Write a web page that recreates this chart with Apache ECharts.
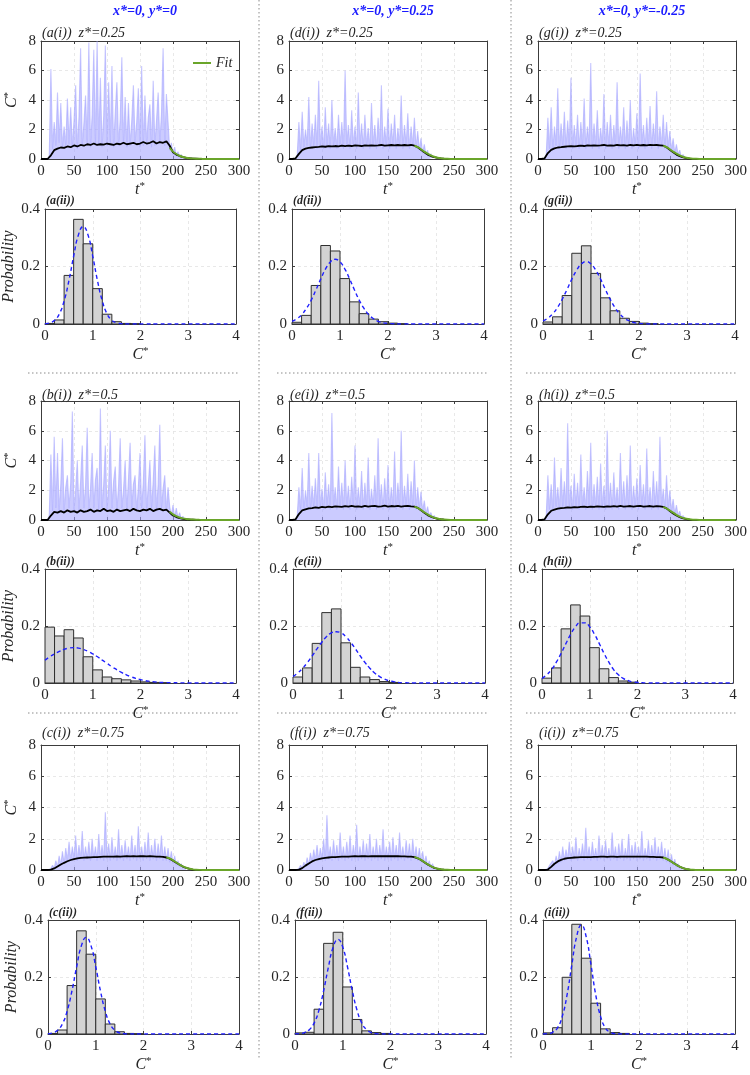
<!DOCTYPE html>
<html><head><meta charset="utf-8">
<script src="https://cdn.jsdelivr.net/npm/echarts@6/dist/echarts.min.js"></script>
<style>html,body{margin:0;padding:0;background:#fff}#c{width:750px;height:1075px}</style>
</head><body><div id="c"></div>
<script>
// ---------------- DATA ----------------
const columnTitles = ['x*=0, y*=0', 'x*=0, y*=0.25', 'x*=0, y*=-0.25'];
const zLabels = ['z*=0.25', 'z*=0.5', 'z*=0.75'];
const panelIds = [['a','b','c'],['d','e','f'],['g','h','i']];
const tsXTicks = [0, 300, 50];
const tsYTicks = [0, 8, 2];
const hXTicks = [0, 4, 1];
const hYTicks = [0, 0.4, 0.2];
// raw signal, t = 10, 12.5, 15, ...
const rawStart = 10, rawStep = 2.5;
const rawA = [0,0.2,6.1,0.7,2.5,0.9,4.5,1.1,3.8,0.8,2.2,0.9,4.1,1.0,3.5,0.8,2.6,5.0,0.7,2.8,7.5,0.9,2.4,4.3,1.1,7.9,0.8,3.0,7.4,0.9,8.0,1.0,5.5,0.8,2.9,7.7,0.9,5.2,1.1,6.3,0.8,3.1,5.2,0.9,2.7,6.9,1.0,4.2,0.8,3.8,0.9,2.6,5.0,1.1,2.5,4.8,0.8,6.3,0.9,4.3,1.0,2.8,3.7,0.8,5.3,0.9,2.6,4.5,1.1,3.0,7.5,0.9,4.4,2.5,0.6,1.1,0.3,0.8,0.2,0.5,0.15,0.3,0.1,0.12,0.05];
const rawB = [0,0.3,4.4,0.6,5.6,0.8,4.5,0.6,2.4,5.5,0.6,2.2,3.0,0.8,2.5,7.3,0.6,2.0,4.0,0.6,2.6,5.0,0.8,2.3,6.2,0.6,2.1,4.5,0.8,2.7,3.5,0.6,7.5,0.8,2.4,5.0,0.6,2.2,6.0,0.8,2.6,3.6,0.6,2.3,5.5,0.8,2.0,4.0,0.6,2.7,5.2,0.8,2.4,3.0,0.6,2.2,4.5,0.8,2.5,5.7,0.6,2.3,4.0,0.8,2.6,5.0,0.6,2.4,6.4,0.8,2.1,3.0,0.6,2.2,0.9,0.3,1.0,0.2,0.8,0.15,0.5,0.1,0.25,0.05,0.1];
const rawC = [0,0,0.1,0.3,0.1,0.6,0.2,0.9,0.3,1.2,0.4,1.4,0.6,1.8,0.6,1.5,0.7,2.2,0.6,1.6,0.7,2.5,0.6,1.5,0.7,1.8,0.6,2.0,0.7,1.5,0.6,2.3,0.7,1.6,0.6,3.7,0.7,1.7,0.6,2.1,0.7,1.5,0.6,2.6,0.7,1.6,0.6,1.9,0.7,1.5,0.6,2.2,0.7,1.6,0.6,2.8,0.7,1.5,0.6,1.8,0.7,2.4,0.6,1.6,0.7,2.0,0.6,1.7,0.7,2.2,0.6,1.5,0.6,1.4,0.5,1.2,0.4,0.9,0.3,0.6,0.2,0.4,0.1,0.2,0.05];
const rawD = [0,0.3,2.5,0.6,3.2,0.8,2.0,0.9,4.2,0.7,2.4,0.9,3.0,0.7,5.3,0.9,2.2,0.7,3.5,0.9,2.4,0.7,4.0,0.9,2.1,0.7,3.0,0.9,2.5,0.7,6.0,0.9,2.3,0.7,3.3,0.9,2.2,0.7,4.5,0.9,2.4,0.7,3.0,0.9,2.1,0.7,3.8,0.9,2.3,0.7,2.8,0.9,5.0,0.7,2.2,0.9,3.4,0.7,2.4,0.9,3.0,0.7,2.1,0.9,4.3,0.7,2.3,0.9,3.1,0.7,2.2,0.9,2.8,0.7,1.9,0.6,1.4,0.4,1.0,0.3,0.6,0.15,0.35,0.1,0.15];
const rawE = [0,0.3,2.2,0.7,3.5,0.6,2.0,0.9,4.5,0.7,2.3,0.9,2.8,0.7,4.5,0.9,2.1,0.7,3.2,0.9,2.4,0.7,7.2,0.9,2.2,0.7,3.6,0.9,2.5,0.7,4.0,0.9,2.3,0.7,2.9,0.9,5.0,0.7,2.2,0.9,3.3,0.7,2.5,0.9,4.2,0.7,2.1,0.9,3.0,0.7,5.5,0.9,2.4,0.7,2.8,0.9,3.7,0.7,2.2,0.9,4.6,0.7,2.5,0.9,6.0,0.7,2.3,0.9,3.1,0.7,2.6,0.9,4.0,0.7,2.2,0.8,1.9,0.6,1.3,0.4,0.9,0.3,0.5,0.15,0.3,0.1,0.12];
const rawF = [0,0,0.1,0.3,0.1,0.5,0.2,0.8,0.3,1.1,0.5,1.3,0.6,1.6,0.6,1.4,0.7,2.0,0.6,3.5,0.7,1.5,0.6,1.9,0.7,1.6,0.6,2.4,0.7,1.5,0.6,1.8,0.7,2.2,0.6,1.6,0.7,2.9,0.6,1.5,0.7,1.9,0.6,1.7,0.7,2.3,0.6,1.5,0.7,2.0,0.6,1.6,0.7,2.6,0.6,1.5,0.7,1.8,0.6,2.1,0.7,1.6,0.6,2.4,0.7,1.5,0.6,1.9,0.7,1.7,0.6,2.0,0.7,1.5,0.6,1.4,0.5,1.2,0.4,0.9,0.3,0.6,0.2,0.4,0.1,0.2,0.05];
const rawG = [0,0.3,2.8,0.7,3.5,0.6,2.2,0.9,4.8,0.7,2.4,0.9,3.2,0.7,2.6,0.9,5.5,0.7,2.3,0.9,3.0,0.7,2.5,0.9,4.1,0.7,2.2,0.9,6.5,0.7,2.4,0.9,3.3,0.7,2.1,0.9,4.4,0.7,2.5,0.9,3.0,0.7,2.3,0.9,5.2,0.7,2.2,0.9,3.5,0.7,2.6,0.9,4.0,0.7,2.1,0.9,3.1,0.7,5.8,0.9,2.3,0.7,2.8,0.9,3.6,0.7,2.4,0.9,4.6,0.7,2.2,0.9,3.0,0.7,2.5,0.8,1.9,0.6,1.4,0.4,1.0,0.3,0.6,0.15,0.3,0.1,0.1];
const rawH = [0,0.3,3.0,0.7,2.4,0.6,4.2,0.9,2.2,0.7,3.5,0.9,2.6,0.7,6.5,0.9,2.3,0.7,3.1,0.9,2.5,0.7,4.4,0.9,2.2,0.7,3.3,0.9,5.2,0.7,2.4,0.9,2.9,0.7,3.8,0.9,2.3,0.7,6.0,0.9,2.5,0.7,3.2,0.9,2.2,0.7,4.5,0.9,2.6,0.7,3.0,0.9,5.0,0.7,2.3,0.9,2.8,0.7,3.7,0.9,2.4,0.7,4.8,0.9,2.2,0.7,3.3,0.9,2.6,0.7,5.6,0.9,2.1,0.7,3.0,0.8,2.0,0.6,1.4,0.4,1.0,0.3,0.6,0.15,0.3,0.1,0.1];
const rawI = [0,0,0.1,0.3,0.2,0.6,0.3,0.9,0.4,1.2,0.5,1.5,0.6,1.3,0.7,1.8,0.6,1.5,0.7,2.1,0.6,1.4,0.7,1.7,0.6,2.7,0.7,1.5,0.6,1.8,0.7,1.4,0.6,2.2,0.7,1.6,0.6,1.9,0.7,1.4,0.6,2.4,0.7,1.5,0.6,1.7,0.7,2.0,0.6,1.4,0.7,2.3,0.6,1.6,0.7,1.8,0.6,1.5,0.7,2.5,0.6,1.4,0.7,1.9,0.6,1.6,0.7,2.1,0.6,1.5,0.7,1.8,0.6,1.4,0.5,1.3,0.4,1.0,0.3,0.7,0.2,0.4,0.1,0.2,0.05];
// ensemble mean, t = 0, 5, 10, ..., 300
const meanStart = 0, meanStep = 5;
const meanA = [0,0,0,0.25,0.6,0.7,0.78,0.75,0.85,0.8,0.92,0.85,0.95,0.9,1.0,0.95,1.05,0.95,1.0,0.98,1.05,1.0,0.95,1.05,1.0,1.1,1.0,1.05,1.1,1.0,1.05,1.15,1.05,1.1,1.2,1.05,1.15,1.1,1.2,0.9,0.45,0.3,0.2,0.13,0.08,0.05,0.03,0.02,0.01,0,0,0,0,0,0,0,0,0,0,0,0];
const meanB = [0,0,0,0.3,0.55,0.5,0.6,0.5,0.65,0.55,0.6,0.5,0.65,0.55,0.6,0.7,0.55,0.65,0.6,0.75,0.6,0.65,0.55,0.7,0.6,0.65,0.7,0.6,0.75,0.65,0.6,0.7,0.65,0.75,0.6,0.7,0.75,0.65,0.7,0.5,0.3,0.2,0.13,0.08,0.05,0.03,0.02,0.01,0,0,0,0,0,0,0,0,0,0,0,0,0];
const meanC = [0,0,0,0.02,0.1,0.22,0.35,0.46,0.56,0.64,0.7,0.74,0.77,0.79,0.8,0.81,0.82,0.83,0.84,0.85,0.86,0.85,0.86,0.87,0.86,0.87,0.88,0.87,0.88,0.87,0.88,0.88,0.87,0.88,0.87,0.86,0.85,0.84,0.8,0.72,0.6,0.47,0.34,0.22,0.13,0.07,0.03,0.01,0.004,0,0,0,0,0,0,0,0,0,0,0,0];
const meanD = [0,0,0.05,0.35,0.6,0.7,0.75,0.78,0.8,0.82,0.85,0.83,0.87,0.85,0.88,0.86,0.9,0.87,0.9,0.88,0.92,0.9,0.88,0.92,0.9,0.93,0.9,0.92,0.95,0.9,0.93,0.95,0.92,0.95,0.93,0.95,0.92,0.95,0.9,0.8,0.62,0.45,0.3,0.2,0.12,0.07,0.04,0.02,0.01,0,0,0,0,0,0,0,0,0,0,0,0];
const meanE = [0,0,0.05,0.4,0.65,0.72,0.78,0.8,0.85,0.82,0.88,0.85,0.9,0.87,0.92,0.9,0.88,0.93,0.9,0.95,0.9,0.92,0.88,0.95,0.9,0.93,0.95,0.9,0.92,0.96,0.9,0.94,0.92,0.95,0.9,0.93,0.95,0.92,0.9,0.82,0.65,0.48,0.33,0.22,0.14,0.08,0.05,0.03,0.015,0.005,0,0,0,0,0,0,0,0,0,0,0];
const meanF = [0,0,0,0.02,0.12,0.28,0.42,0.55,0.64,0.7,0.75,0.78,0.8,0.82,0.83,0.84,0.85,0.86,0.86,0.87,0.88,0.87,0.88,0.88,0.87,0.88,0.89,0.88,0.89,0.88,0.88,0.89,0.88,0.88,0.87,0.87,0.86,0.85,0.82,0.75,0.64,0.5,0.36,0.24,0.14,0.08,0.04,0.02,0.008,0.003,0,0,0,0,0,0,0,0,0,0,0];
const meanG = [0,0,0.05,0.4,0.62,0.72,0.78,0.8,0.83,0.85,0.87,0.85,0.88,0.9,0.88,0.92,0.9,0.93,0.9,0.92,0.95,0.9,0.93,0.9,0.95,0.92,0.94,0.9,0.95,0.92,0.96,0.93,0.95,0.92,0.96,0.94,0.95,0.93,0.9,0.8,0.62,0.45,0.3,0.19,0.11,0.06,0.03,0.015,0.005,0,0,0,0,0,0,0,0,0,0,0,0];
const meanH = [0,0,0.05,0.38,0.62,0.7,0.76,0.8,0.82,0.85,0.83,0.87,0.85,0.88,0.9,0.86,0.9,0.88,0.92,0.9,0.88,0.92,0.9,0.93,0.9,0.95,0.9,0.92,0.94,0.9,0.93,0.95,0.9,0.92,0.94,0.9,0.93,0.92,0.88,0.78,0.6,0.44,0.3,0.19,0.11,0.06,0.03,0.015,0.005,0,0,0,0,0,0,0,0,0,0,0,0];
const meanI = [0,0,0,0.03,0.2,0.4,0.55,0.65,0.72,0.76,0.78,0.8,0.81,0.82,0.82,0.83,0.83,0.84,0.84,0.85,0.85,0.84,0.85,0.85,0.84,0.85,0.86,0.85,0.86,0.85,0.85,0.86,0.85,0.85,0.84,0.84,0.83,0.82,0.8,0.72,0.6,0.46,0.33,0.21,0.12,0.06,0.03,0.01,0.004,0,0,0,0,0,0,0,0,0,0,0,0];
// decay fit, t = 190, 195, ..., 300
const fitStart = 190, fitStep = 5;
const fitA = [null,0.75,0.5,0.34,0.22,0.14,0.09,0.055,0.033,0.02,0.012,0.007,0.004,0.002,0.001,0,0,0,0,0,0,0,0];
const fitB = [null,0.55,0.38,0.26,0.17,0.11,0.07,0.045,0.028,0.017,0.01,0.006,0.003,0.002,0.001,0,0,0,0,0,0,0,0];
const fitC = [0.82,0.74,0.62,0.48,0.35,0.23,0.14,0.08,0.04,0.02,0.008,0.003,0.001,0,0,0,0,0,0,0,0,0,0];
const fitD = [0.9,0.8,0.66,0.5,0.36,0.24,0.15,0.09,0.05,0.025,0.012,0.005,0.002,0.001,0,0,0,0,0,0,0,0,0];
const fitE = [0.9,0.82,0.68,0.52,0.38,0.26,0.16,0.1,0.055,0.03,0.015,0.007,0.003,0.001,0,0,0,0,0,0,0,0,0];
const fitF = [0.84,0.76,0.65,0.51,0.37,0.25,0.15,0.085,0.045,0.022,0.01,0.004,0.001,0,0,0,0,0,0,0,0,0,0];
const fitG = [0.9,0.8,0.66,0.5,0.36,0.24,0.15,0.09,0.05,0.025,0.012,0.005,0.002,0.001,0,0,0,0,0,0,0,0,0];
const fitH = [0.88,0.78,0.64,0.49,0.35,0.23,0.14,0.085,0.045,0.022,0.01,0.004,0.002,0.001,0,0,0,0,0,0,0,0,0];
const fitI = [0.8,0.72,0.6,0.46,0.33,0.21,0.12,0.065,0.03,0.012,0.005,0.002,0.001,0,0,0,0,0,0,0,0,0,0];
// histograms: bins of width 0.2 starting at 0
const binStart = 0, binWidth = 0.2;
const histA = [0.002,0.014,0.169,0.364,0.279,0.123,0.034,0.008,0.002,0.001];
const histB = [0.196,0.165,0.187,0.158,0.092,0.046,0.021,0.015,0.011,0.007,0.004,0.002,0.001];
const histC = [0.002,0.014,0.17,0.362,0.28,0.123,0.035,0.008,0.002,0.001];
const histD = [0.006,0.03,0.134,0.273,0.254,0.158,0.077,0.036,0.017,0.008,0.003,0.001];
const histE = [0.021,0.053,0.139,0.247,0.26,0.141,0.055,0.021,0.012,0.005,0.002];
const histF = [0.004,0.006,0.087,0.318,0.357,0.165,0.051,0.011,0.005,0.002];
const histG = [0.007,0.025,0.099,0.246,0.272,0.176,0.091,0.046,0.02,0.009,0.003,0.001];
const histH = [0.017,0.053,0.19,0.274,0.235,0.124,0.05,0.019,0.007,0.003];
const histI = [0.004,0.022,0.199,0.385,0.266,0.108,0.018,0.005,0.002];
// fitted normal curves (dashed)
const gaussX = [0,0.1,0.2,0.3,0.4,0.5,0.6,0.7,0.8,0.9,1.0,1.1,1.2,1.3,1.4,1.5,1.6,1.7,1.8,1.9,2.0,2.1,2.2,2.3,2.4,2.5,3,3.5,4];
const gaussA = [0.001,0.004,0.013,0.035,0.080,0.150,0.236,0.310,0.339,0.310,0.236,0.150,0.080,0.035,0.013,0.004,0.001,0,0,0,0,0,0,0,0,0,0,0,0];
const gaussB = [0.080,0.092,0.102,0.111,0.118,0.1225,0.124,0.1225,0.118,0.111,0.102,0.092,0.080,0.069,0.057,0.047,0.037,0.029,0.022,0.016,0.012,0.008,0.006,0.004,0.002,0.0016,0.0002,0,0];
const gaussC = [0.001,0.004,0.013,0.035,0.080,0.150,0.236,0.310,0.339,0.310,0.236,0.150,0.080,0.035,0.013,0.004,0.001,0,0,0,0,0,0,0,0,0,0,0,0];
const gaussD = [0.009,0.018,0.032,0.054,0.083,0.119,0.157,0.192,0.216,0.225,0.216,0.192,0.157,0.119,0.083,0.054,0.032,0.018,0.009,0.004,0.002,0.001,0,0,0,0,0,0,0];
const gaussE = [0.023,0.035,0.052,0.072,0.095,0.120,0.143,0.163,0.176,0.180,0.176,0.163,0.143,0.120,0.095,0.072,0.052,0.035,0.023,0.014,0.008,0.005,0.002,0.001,0.0006,0,0,0,0];
const gaussF = [0.0003,0.001,0.005,0.015,0.038,0.083,0.152,0.235,0.305,0.332,0.305,0.235,0.152,0.083,0.038,0.015,0.005,0.001,0.0003,0,0,0,0,0,0,0,0,0,0];
const gaussG = [0.011,0.020,0.035,0.057,0.086,0.120,0.156,0.187,0.209,0.217,0.209,0.187,0.156,0.120,0.086,0.057,0.035,0.020,0.011,0.005,0.002,0.001,0,0,0,0,0,0,0];
const gaussH = [0.016,0.029,0.047,0.073,0.104,0.138,0.171,0.197,0.211,0.211,0.197,0.171,0.138,0.104,0.073,0.047,0.029,0.016,0.009,0.004,0.002,0.001,0,0,0,0,0,0,0];
const gaussI = [0.0002,0.001,0.006,0.021,0.061,0.136,0.242,0.341,0.383,0.341,0.242,0.136,0.061,0.021,0.006,0.001,0.0002,0,0,0,0,0,0,0,0,0,0,0,0];

const RAW = {a:rawA,b:rawB,c:rawC,d:rawD,e:rawE,f:rawF,g:rawG,h:rawH,i:rawI};
const MEAN = {a:meanA,b:meanB,c:meanC,d:meanD,e:meanE,f:meanF,g:meanG,h:meanH,i:meanI};
const FIT = {a:fitA,b:fitB,c:fitC,d:fitD,e:fitE,f:fitF,g:fitG,h:fitH,i:fitI};
const HIST = {a:histA,b:histB,c:histC,d:histD,e:histE,f:histF,g:histG,h:histH,i:histI};
const GAUSS = {a:gaussA,b:gaussB,c:gaussC,d:gaussD,e:gaussE,f:gaussF,g:gaussG,h:gaussH,i:gaussI};

// ---------------- LAYOUT ----------------
const SERIF = '"Liberation Serif", "Times New Roman", serif';
const AXC = '#3c3c3c';
const TXT = '#262626';
const TS_X = [[41,239],[289,487],[538,737]];
const H_X = [[[45,236],[45,236],[48,239]],[[292,484],[293,485],[295,486]],[[543,735],[542,733],[543,735]]];
const TS_TOP = [41,401,745], TS_H = [118,119,125];
const H_TOP = [209,569,920], H_H = [115,114,114];
const TS_LABEL_DY = [20,18,24];
const H_LABEL_DY = [19,18,18];
const COL_CENTER = [140,388,637];

const rich = {
  i:{fontFamily:SERIF, fontStyle:'italic', fontSize:16, color:TXT, lineHeight:18},
  s:{fontFamily:SERIF, fontSize:11, color:TXT, verticalAlign:'top', lineHeight:11}
};

const option = {animation:false, backgroundColor:'#fff', title:[], grid:[], xAxis:[], yAxis:[], series:[], graphic:[],
  legend:{data:['Fit'], left:188, top:51, itemWidth:18, itemHeight:2, icon:'rect', itemGap:4,
    textStyle:{fontFamily:SERIF, fontStyle:'italic', fontSize:14, color:TXT}}};

let gi = 0;
function addGrid(left, right, top, height, xt, yt, xName, yName, yNameGap) {
  const g = gi++;
  option.grid.push({left:left, top:top, width:right-left, height:height});
  const lab = {fontFamily:SERIF, fontSize:15, color:TXT, margin:5};
  const split = {show:true, lineStyle:{color:'#e2e2e2', type:[3,3], width:0.8}};
  option.xAxis.push({type:'value', gridIndex:g, position:'bottom', min:xt[0], max:xt[1], interval:xt[2],
    axisLine:{show:true, onZero:false, lineStyle:{color:AXC, width:1}}, axisTick:{inside:true, length:3, lineStyle:{color:AXC}},
    axisLabel:lab, splitLine:split,
    name:xName, nameLocation:'middle', nameGap:22, nameTextStyle:{rich:rich}});
  option.xAxis.push({type:'value', gridIndex:g, position:'top', min:xt[0], max:xt[1], interval:xt[2],
    axisLine:{show:true, onZero:false, lineStyle:{color:AXC, width:1}}, axisTick:{inside:true, length:3, lineStyle:{color:AXC}},
    axisLabel:{show:false}, splitLine:{show:false}});
  option.yAxis.push({type:'value', gridIndex:g, position:'left', min:yt[0], max:yt[1], interval:yt[2],
    axisLine:{show:true, onZero:false, lineStyle:{color:AXC, width:1}}, axisTick:{inside:true, length:3, lineStyle:{color:AXC}},
    axisLabel:lab, splitLine:split,
    name:yName, nameLocation:'middle', nameGap:yNameGap, nameTextStyle:{rich:rich}});
  option.yAxis.push({type:'value', gridIndex:g, position:'right', min:yt[0], max:yt[1], interval:yt[2],
    axisLine:{show:true, onZero:false, lineStyle:{color:AXC, width:1}}, axisTick:{inside:true, length:3, lineStyle:{color:AXC}},
    axisLabel:{show:false}, splitLine:{show:false}});
  return g;
}

for (let c = 0; c < 3; c++) {
  option.title.push({text:columnTitles[c], left:COL_CENTER[c], top:-1, textAlign:'center',
    textStyle:{fontFamily:SERIF, fontStyle:'italic', fontWeight:'bold', fontSize:14, color:'#1a1aff'}});
  for (let r = 0; r < 3; r++) {
    const id = panelIds[c][r];
    // ---- time series panel ----
    const g = addGrid(TS_X[c][0], TS_X[c][1], TS_TOP[r], TS_H[r], tsXTicks, tsYTicks,
      '{i|t}{s|*}', c === 0 ? '{i|C}{s|*}' : '', 20);
    option.title.push({text:'(' + id + '(i))  ' + zLabels[r], left:TS_X[c][0]-4, top:TS_TOP[r]-TS_LABEL_DY[r],
      textStyle:{fontFamily:SERIF, fontStyle:'italic', fontWeight:'normal', fontSize:14, color:TXT}});
    option.series.push({type:'line', xAxisIndex:2*g, yAxisIndex:2*g, showSymbol:false, silent:true, sampling:null,
      data:RAW[id].map((v,k) => [rawStart + rawStep*k, v]),
      lineStyle:{color:'#a5a5ff', width:1.1, opacity:0.6},
      areaStyle:{color:'#a8a8ff', opacity:0.6}, z:1});
    option.series.push({type:'line', xAxisIndex:2*g, yAxisIndex:2*g, showSymbol:false, silent:true,
      data:MEAN[id].map((v,k) => [meanStart + meanStep*k, v]),
      lineStyle:{color:'#000', width:1.8}, z:3});
    option.series.push({type:'line', name:'Fit', xAxisIndex:2*g, yAxisIndex:2*g, showSymbol:false, silent:true, smooth:0.3,
      data:FIT[id].map((v,k) => [fitStart + fitStep*k, v]),
      itemStyle:{color:'#6aa52a'}, lineStyle:{color:'#6aa52a', width:2}, z:4});
    // ---- histogram panel ----
    const hx = H_X[c][r];
    const h = addGrid(hx[0], hx[1], H_TOP[r], H_H[r], hXTicks, hYTicks,
      '{i|C}{s|*}', c === 0 ? '{i|Probability}' : '', 27);
    option.title.push({text:'(' + id + '(ii))', left:hx[0]-4, top:H_TOP[r]-H_LABEL_DY[r],
      textStyle:{fontFamily:SERIF, fontStyle:'italic', fontWeight:'bold', fontSize:12, color:TXT}});
    option.series.push({type:'custom', xAxisIndex:2*h, yAxisIndex:2*h, silent:true, z:2,
      data:HIST[id].map((v,k) => [binStart + binWidth*k, binStart + binWidth*(k+1), v]),
      renderItem:function(params, api){
        const p0 = api.coord([api.value(0), api.value(2)]);
        const p1 = api.coord([api.value(1), 0]);
        return {type:'rect', shape:{x:p0[0], y:p0[1], width:p1[0]-p0[0], height:p1[1]-p0[1]},
          style:{fill:'#d3d3d3', stroke:'#2e2e2e', lineWidth:1}};
      }});
    option.series.push({type:'line', xAxisIndex:2*h, yAxisIndex:2*h, showSymbol:false, silent:true, smooth:true,
      data:GAUSS[id].map((v,k) => [gaussX[k], v]),
      lineStyle:{color:'#1f1fff', width:1.4, type:[4,3]}, z:5});
  }
}
// decorative dotted separators
const dotStyle = {stroke:'#8a8a8a', lineWidth:1, lineDash:[1.5,2.5]};
[259, 511].forEach(x => option.graphic.push({type:'line', shape:{x1:x, y1:0, x2:x, y2:1060}, style:dotStyle, silent:true}));
[373, 713].forEach(y => [[28,238],[277,487],[526,737]].forEach(s =>
  option.graphic.push({type:'line', shape:{x1:s[0], y1:y, x2:s[1], y2:y}, style:dotStyle, silent:true})));

const chart = echarts.init(document.getElementById('c'), null, {renderer:'canvas'});
chart.setOption(option);
</script></body></html>
